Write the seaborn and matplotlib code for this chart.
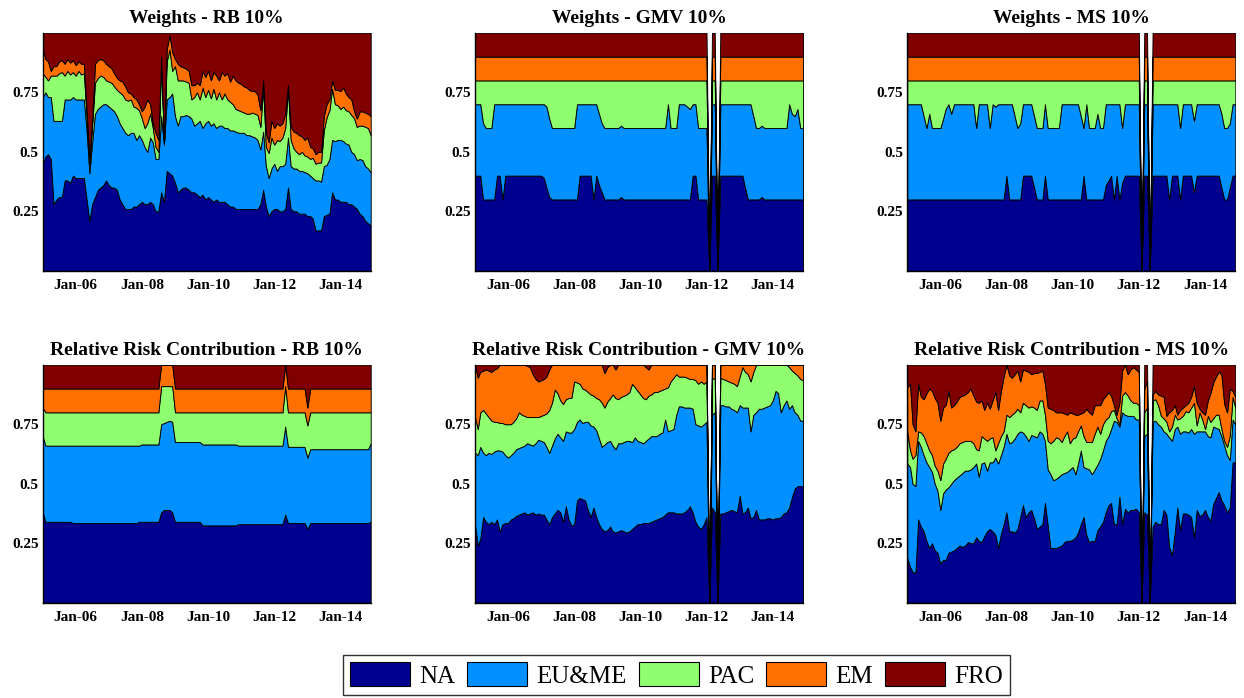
import numpy as np
import pandas as pd
import matplotlib
matplotlib.use("Agg")
import matplotlib.pyplot as plt
import matplotlib.dates as mdates
from matplotlib.patches import Patch
import seaborn as sns

# ---------------------------------------------------------------------------
# Monthly allocation data, Jan 2005 - Dec 2014 (120 months)
# ---------------------------------------------------------------------------
months = pd.date_range("2005-01-01", periods=120, freq="MS")
regions = ["NA", "EU&ME", "PAC", "EM", "FRO"]
region_colors = ["#00008F", "#0090FF", "#8FFF70", "#FF7000", "#800000"]
tick_years = [2006, 2008, 2010, 2012, 2014]
ytick_values = [0.25, 0.5, 0.75]
ytick_labels = ["0.25", "0.5", "0.75"]

# Weights - RB 10%
rb_w_na = [.45, .48, .49, .47, .28, .30, .31, .31, .38, .38,
           .37, .40, .39, .39, .39, .39, .30, .21, .28, .31,
           .34, .35, .36, .38, .36, .35, .35, .34, .30, .28,
           .26, .26, .26, .27, .27, .28, .29, .28, .28, .29,
           .28, .25, .25, .33, .29, .42, .41, .40, .37, .33,
           .34, .35, .35, .34, .33, .33, .32, .31, .32, .30,
           .31, .30, .29, .30, .29, .29, .29, .28, .27, .27,
           .26, .26, .26, .26, .26, .26, .26, .26, .26, .28,
           .34, .27, .23, .25, .26, .26, .25, .25, .26, .35,
           .26, .25, .25, .24, .24, .24, .23, .23, .22, .17,
           .17, .17, .23, .235, .24, .33, .30, .30, .29, .29,
           .29, .28, .28, .27, .26, .24, .23, .21, .20, .19]
rb_w_eu = [.28, .27, .24, .26, .35, .33, .32, .32, .34, .34,
           .35, .33, .33, .33, .33, .33, .29, .20, .26, .35,
           .34, .34, .34, .32, .33, .33, .32, .31, .32, .32,
           .32, .31, .32, .31, .28, .29, .26, .24, .22, .27,
           .26, .22, .22, .32, .24, .30, .32, .345, .28, .28,
           .31, .30, .305, .31, .31, .28, .30, .32, .28, .32,
           .32, .31, .33, .30, .32, .32, .31, .32, .32, .32,
           .325, .32, .32, .32, .31, .31, .305, .30, .29, .23,
           .245, .17, .16, .18, .19, .16, .19, .19, .19, .21,
           .18, .18, .18, .18, .18, .175, .18, .17, .17, .21,
           .21, .205, .21, .21, .23, .22, .245, .25, .26, .255,
           .245, .25, .22, .22, .205, .23, .235, .23, .23, .225]
rb_w_pac = [.10, .065, .07, .09, .19, .19, .20, .205, .10, .12,
            .105, .105, .10, .12, .105, .11, .06, .04, .07, .13,
            .13, .13, .115, .10, .105, .11, .105, .11, .13, .14,
            .14, .145, .14, .11, .135, .105, .09, .08, .12, .10,
            .06, .05, .03, .23, .005, .16, .20, .095, .21, .19,
            .15, .15, .14, .14, .08, .12, .13, .09, .17, .11,
            .13, .115, .145, .12, .14, .11, .145, .12, .12, .11,
            .095, .095, .09, .085, .09, .09, .10, .10, .105, .095,
            .185, .08, .105, .13, .08, .13, .105, .12, .15, .205,
            .11, .085, .07, .07, .08, .07, .07, .07, .085, .07,
            .075, .08, .15, .20, .205, .215, .155, .145, .13, .145,
            .14, .14, .155, .15, .14, .14, .145, .165, .17, .155]
rb_w_em = [.10, .075, .08, .02, .04, .04, .05, .05, .05, .05,
           .05, .05, .045, .04, .045, .04, .025, .03, .02, .08,
           .075, .07, .07, .07, .065, .06, .055, .05, .05, .055,
           .055, .035, .025, .04, .035, .025, .03, .09, .10, .04,
           .02, .06, .05, .02, .005, .05, .06, .08, .03, .07,
           .06, .055, .055, .05, .06, .05, .04, .06, .07, .085,
           .08, .075, .07, .10, .05, .115, .075, .11, .085, .12,
           .12, .115, .115, .11, .11, .10, .09, .095, .085, .07,
           .03, .06, .045, .07, .07, .07, .065, .06, .06, .015,
           .055, .07, .08, .08, .065, .065, .08, .05, .04, .04,
           .045, .045, .06, .055, .045, .035, .06, .065, .075, .08,
           .07, .06, .065, .03, .035, .06, .06, .06, .06, .08]
rb_w_fro = [.07, .11, .12, .16, .14, .14, .12, .115, .13, .11,
            .125, .115, .135, .12, .13, .13, .325, .52, .37, .13,
            .115, .11, .115, .13, .14, .15, .17, .19, .20, .205,
            .225, .25, .255, .27, .28, .30, .33, .31, .28, .30,
            .38, .42, .45, .10, .46, .07, .01, .08, .11, .13,
            .14, .145, .15, .16, .22, .22, .21, .22, .16, .185,
            .16, .20, .165, .18, .20, .165, .18, .17, .205, .18,
            .20, .21, .215, .225, .23, .24, .245, .245, .26, .325,
            .20, .42, .46, .37, .40, .38, .39, .38, .34, .22,
            .395, .415, .42, .43, .435, .45, .44, .48, .485, .51,
            .50, .50, .35, .30, .28, .20, .24, .24, .245, .23,
            .255, .27, .28, .33, .36, .33, .33, .335, .34, .35]

# Weights - GMV 10%
gmv_w_na = [.4, .4, .4, .3, .3, .3, .3, .3, .4, .4,
            .3, .4, .4, .4, .4, .4, .4, .4, .4, .4,
            .4, .4, .4, .4, .4, .39, .35, .31, .3, .3,
            .3, .3, .3, .3, .3, .3, .3, .3, .4, .4,
            .4, .4, .4, .3, .4, .36, .33, .3, .3, .3,
            .3, .3, .3, .31, .3, .3, .3, .3, .3, .3,
            .3, .3, .3, .3, .3, .3, .3, .3, .3, .3,
            .3, .3, .3, .3, .3, .3, .3, .3, .3, .4,
            .4, .3, .3, .3, .3, 0, .4, .4, 0, .4,
            .4, .4, .4, .4, .4, .4, .4, .4, .35, .3,
            .3, .3, .3, .3, .31, .3, .3, .3, .3, .3,
            .3, .3, .3, .3, .3, .3, .3, .3, .3, .3]
gmv_w_eu = [.3, .3, .3, .32, .3, .3, .3, .4, .3, .3,
            .4, .3, .3, .3, .3, .3, .3, .3, .3, .3,
            .3, .3, .3, .3, .3, .31, .34, .33, .3, .3,
            .3, .3, .3, .3, .3, .3, .3, .4, .3, .3,
            .3, .3, .3, .4, .3, .3, .29, .3, .3, .3,
            .3, .3, .3, .3, .3, .3, .3, .3, .3, .3,
            .3, .3, .3, .3, .3, .3, .3, .3, .3, .3,
            .4, .3, .3, .3, .4, .4, .4, .39, .38, .3,
            .3, .3, .3, .3, .3, 0, .3, .3, 0, .3,
            .3, .3, .3, .3, .3, .3, .3, .3, .35, .4,
            .4, .35, .3, .3, .3, .3, .3, .3, .3, .3,
            .3, .3, .3, .3, .4, .36, .35, .38, .3, .3]
gmv_w_pac = [.1, .1, .1, .18, .2, .2, .2, .1, .1, .1,
             .1, .1, .1, .1, .1, .1, .1, .1, .1, .1,
             .1, .1, .1, .1, .1, .1, .11, .16, .2, .2,
             .2, .2, .2, .2, .2, .2, .2, .1, .1, .1,
             .1, .1, .1, .1, .1, .14, .18, .2, .2, .2,
             .2, .2, .2, .19, .2, .2, .2, .2, .2, .2,
             .2, .2, .2, .2, .2, .2, .2, .2, .2, .2,
             .1, .2, .2, .2, .1, .1, .1, .11, .12, .1,
             .1, .2, .2, .2, .2, 0, .1, .1, 0, .1,
             .1, .1, .1, .1, .1, .1, .1, .1, .1, .1,
             .1, .15, .2, .2, .19, .2, .2, .2, .2, .2,
             .2, .2, .2, .2, .1, .14, .15, .12, .2, .2]
gmv_w_em = [.1, .1, .1, .1, .1, .1, .1, .1, .1, .1,
            .1, .1, .1, .1, .1, .1, .1, .1, .1, .1,
            .1, .1, .1, .1, .1, .1, .1, .1, .1, .1,
            .1, .1, .1, .1, .1, .1, .1, .1, .1, .1,
            .1, .1, .1, .1, .1, .1, .1, .1, .1, .1,
            .1, .1, .1, .1, .1, .1, .1, .1, .1, .1,
            .1, .1, .1, .1, .1, .1, .1, .1, .1, .1,
            .1, .1, .1, .1, .1, .1, .1, .1, .1, .1,
            .1, .1, .1, .1, .1, 0, .1, .1, 0, .1,
            .1, .1, .1, .1, .1, .1, .1, .1, .1, .1,
            .1, .1, .1, .1, .1, .1, .1, .1, .1, .1,
            .1, .1, .1, .1, .1, .1, .1, .1, .1, .1]
gmv_w_fro = [.1, .1, .1, .1, .1, .1, .1, .1, .1, .1,
             .1, .1, .1, .1, .1, .1, .1, .1, .1, .1,
             .1, .1, .1, .1, .1, .1, .1, .1, .1, .1,
             .1, .1, .1, .1, .1, .1, .1, .1, .1, .1,
             .1, .1, .1, .1, .1, .1, .1, .1, .1, .1,
             .1, .1, .1, .1, .1, .1, .1, .1, .1, .1,
             .1, .1, .1, .1, .1, .1, .1, .1, .1, .1,
             .1, .1, .1, .1, .1, .1, .1, .1, .1, .1,
             .1, .1, .1, .1, .1, 0, .1, .1, 0, .1,
             .1, .1, .1, .1, .1, .1, .1, .1, .1, .1,
             .1, .1, .1, .1, .1, .1, .1, .1, .1, .1,
             .1, .1, .1, .1, .1, .1, .1, .1, .1, .1]

# Weights - MS 10%
ms_w_na = [.3, .3, .3, .3, .3, .3, .3, .3, .3, .3,
           .3, .3, .3, .3, .3, .3, .3, .3, .3, .3,
           .3, .3, .3, .3, .3, .3, .3, .3, .3, .3,
           .3, .3, .3, .3, .3, .3, .4, .3, .3, .3,
           .3, .3, .4, .4, .4, .4, .35, .3, .3, .3,
           .4, .3, .3, .3, .3, .3, .3, .3, .3, .3,
           .3, .3, .3, .3, .4, .3, .3, .3, .3, .3,
           .3, .3, .36, .38, .4, .3, .4, .3, .37, .4,
           .4, .4, .4, .4, .4, 0, .4, .4, 0, .4,
           .4, .4, .4, .4, .4, .3, .4, .4, .4, .3,
           .4, .4, .4, .4, .33, .4, .4, .4, .4, .4,
           .4, .4, .4, .4, .35, .3, .3, .35, .4, .4]
ms_w_eu = [.4, .4, .4, .4, .4, .4, .35, .3, .36, .3,
           .3, .3, .3, .34, .38, .4, .36, .4, .4, .4,
           .4, .4, .4, .4, .4, .3, .4, .4, .4, .4,
           .3, .4, .39, .4, .4, .4, .3, .4, .4, .35,
           .3, .32, .3, .3, .3, .3, .3, .3, .3, .3,
           .3, .3, .3, .3, .3, .3, .4, .4, .4, .4,
           .4, .4, .4, .35, .2, .4, .3, .3, .3, .36,
           .3, .3, .34, .32, .3, .4, .3, .4, .23, .3,
           .3, .3, .3, .3, .3, 0, .3, .3, 0, .3,
           .3, .3, .3, .3, .3, .4, .3, .3, .3, .3,
           .3, .3, .3, .3, .3, .3, .3, .3, .3, .3,
           .3, .3, .3, .3, .31, .3, .3, .27, .3, .3]
ms_w_pac = [.1, .1, .1, .1, .1, .1, .15, .2, .14, .2,
            .2, .2, .2, .16, .12, .1, .14, .1, .1, .1,
            .1, .1, .1, .1, .1, .2, .1, .1, .1, .1,
            .2, .1, .11, .1, .1, .1, .1, .1, .1, .15,
            .2, .18, .1, .1, .1, .1, .15, .2, .2, .2,
            .1, .2, .2, .2, .2, .2, .1, .1, .1, .1,
            .1, .1, .1, .15, .2, .1, .2, .2, .2, .14,
            .2, .2, .1, .1, .1, .1, .1, .1, .2, .1,
            .1, .1, .1, .1, .1, 0, .1, .1, 0, .1,
            .1, .1, .1, .1, .1, .1, .1, .1, .1, .2,
            .1, .1, .1, .1, .17, .1, .1, .1, .1, .1,
            .1, .1, .1, .1, .14, .2, .2, .18, .1, .1]
ms_w_em = list(gmv_w_em)
ms_w_fro = list(gmv_w_fro)

# Relative Risk Contribution - RB 10%
rb_rc_na = [.38, .34, .34, .34, .34, .34, .34, .34, .34, .34,
            .34, .335, .335, .335, .335, .335, .335, .335, .335, .335,
            .335, .335, .335, .335, .335, .335, .335, .335, .335, .335,
            .335, .335, .335, .335, .335, .34, .34, .34, .34, .34,
            .34, .34, .34, .38, .39, .39, .39, .38, .34, .34,
            .34, .34, .34, .34, .34, .34, .34, .34, .325, .325,
            .325, .325, .325, .325, .325, .325, .325, .325, .325, .325,
            .325, .33, .33, .33, .33, .33, .33, .33, .33, .33,
            .33, .33, .33, .33, .33, .33, .33, .33, .37, .335,
            .335, .335, .335, .335, .335, .335, .31, .335, .335, .335,
            .335, .335, .335, .335, .335, .335, .335, .335, .335, .335,
            .335, .335, .335, .335, .335, .335, .335, .335, .335, .34]
rb_rc_eu = [.32, .32, .32, .32, .32, .32, .32, .32, .32, .32,
            .32, .325, .325, .325, .325, .325, .325, .325, .325, .325,
            .325, .325, .325, .325, .325, .325, .325, .325, .325, .325,
            .325, .325, .325, .325, .325, .32, .325, .325, .325, .325,
            .325, .325, .325, .37, .365, .37, .375, .38, .335, .335,
            .335, .335, .335, .335, .335, .335, .335, .335, .34, .34,
            .34, .34, .34, .34, .34, .34, .34, .34, .34, .34,
            .34, .33, .33, .33, .33, .33, .33, .33, .33, .33,
            .33, .33, .33, .33, .33, .33, .33, .33, .37, .32,
            .32, .32, .32, .32, .32, .32, .30, .31, .31, .31,
            .31, .31, .31, .31, .31, .31, .31, .31, .31, .31,
            .31, .31, .31, .31, .31, .31, .31, .31, .31, .33]
rb_rc_pac = [.12, .14, .14, .14, .14, .14, .14, .14, .14, .14,
             .14, .14, .14, .14, .14, .14, .14, .14, .14, .14,
             .14, .14, .14, .14, .14, .14, .14, .14, .14, .14,
             .14, .14, .14, .14, .14, .14, .135, .135, .135, .135,
             .135, .135, .135, .16, .155, .15, .145, .15, .125, .125,
             .125, .125, .125, .125, .125, .125, .125, .125, .135, .135,
             .135, .135, .135, .135, .135, .135, .135, .135, .135, .135,
             .135, .14, .14, .14, .14, .14, .14, .14, .14, .14,
             .14, .14, .14, .14, .14, .14, .14, .14, .17, .145,
             .145, .145, .145, .145, .145, .145, .135, .155, .155, .155,
             .155, .155, .155, .155, .155, .155, .155, .155, .155, .155,
             .155, .155, .155, .155, .155, .155, .155, .155, .155, .13]
rb_rc_em = [.08, .10, .10, .10, .10, .10, .10, .10, .10, .10,
            .10, .10, .10, .10, .10, .10, .10, .10, .10, .10,
            .10, .10, .10, .10, .10, .10, .10, .10, .10, .10,
            .10, .10, .10, .10, .10, .10, .10, .10, .10, .10,
            .10, .10, .10, .09, .09, .09, .09, .09, .10, .10,
            .10, .10, .10, .10, .10, .10, .10, .10, .10, .10,
            .10, .10, .10, .10, .10, .10, .10, .10, .10, .10,
            .10, .10, .10, .10, .10, .10, .10, .10, .10, .10,
            .10, .10, .10, .10, .10, .10, .10, .10, .09, .10,
            .10, .10, .10, .10, .10, .10, .075, .10, .10, .10,
            .10, .10, .10, .10, .10, .10, .10, .10, .10, .10,
            .10, .10, .10, .10, .10, .10, .10, .10, .10, .10]
rb_rc_fro = [.10, .10, .10, .10, .10, .10, .10, .10, .10, .10,
             .10, .10, .10, .10, .10, .10, .10, .10, .10, .10,
             .10, .10, .10, .10, .10, .10, .10, .10, .10, .10,
             .10, .10, .10, .10, .10, .10, .10, .10, .10, .10,
             .10, .10, .10, 0, 0, 0, 0, 0, .10, .10,
             .10, .10, .10, .10, .10, .10, .10, .10, .10, .10,
             .10, .10, .10, .10, .10, .10, .10, .10, .10, .10,
             .10, .10, .10, .10, .10, .10, .10, .10, .10, .10,
             .10, .10, .10, .10, .10, .10, .10, .10, 0, .10,
             .10, .10, .10, .10, .10, .10, .18, .10, .10, .10,
             .10, .10, .10, .10, .10, .10, .10, .10, .10, .10,
             .10, .10, .10, .10, .10, .10, .10, .10, .10, .10]

# Relative Risk Contribution - GMV 10%
gmv_rc_na = [.33, .24, .27, .36, .34, .33, .34, .33, .35, .30,
             .33, .335, .335, .35, .355, .365, .37, .375, .38, .37,
             .375, .38, .37, .375, .37, .37, .35, .33, .36, .375,
             .39, .38, .34, .405, .35, .325, .33, .43, .44, .435,
             .43, .39, .36, .40, .36, .33, .31, .30, .305, .32,
             .30, .295, .30, .305, .30, .295, .30, .31, .32, .33,
             .33, .335, .335, .335, .34, .345, .35, .355, .36, .37,
             .38, .38, .38, .375, .375, .375, .38, .39, .405, .38,
             .34, .32, .31, .33, .36, 0, .40, .38, 0, .375,
             .375, .38, .385, .39, .385, .38, .45, .375, .38, .40,
             .355, .36, .39, .35, .35, .35, .355, .355, .35, .355,
             .355, .36, .375, .38, .40, .445, .48, .49, .49, .49]
gmv_rc_eu = [.30, .38, .385, .27, .28, .30, .285, .305, .29, .34,
             .305, .285, .275, .27, .275, .28, .28, .28, .28, .30,
             .29, .28, .30, .31, .31, .305, .305, .30, .30, .315,
             .32, .315, .34, .315, .365, .39, .40, .33, .33, .32,
             .33, .37, .385, .34, .365, .36, .345, .365, .37, .36,
             .36, .35, .37, .365, .375, .385, .38, .365, .375, .35,
             .345, .335, .345, .355, .36, .355, .35, .355, .355, .40,
             .34, .345, .35, .415, .45, .45, .44, .43, .415, .435,
             .41, .425, .43, .42, .40, 0, .39, .42, 0, .455,
             .455, .445, .44, .425, .425, .42, .38, .445, .44, .42,
             .365, .43, .41, .465, .465, .47, .47, .475, .50, .535,
             .525, .44, .455, .47, .415, .385, .32, .30, .275, .275]
gmv_rc_pac = [.15, .11, .145, .18, .175, .15, .14, .125, .12, .115,
              .12, .13, .14, .13, .13, .13, .15, .135, .125, .11,
              .115, .12, .11, .095, .105, .115, .14, .18, .18, .205,
              .17, .155, .155, .135, .145, .145, .20, .165, .15, .145,
              .135, .125, .13, .13, .135, .165, .185, .155, .17, .18,
              .215, .215, .185, .195, .195, .195, .205, .245, .21, .21,
              .20, .19, .175, .18, .175, .185, .185, .18, .18, .13,
              .185, .205, .215, .17, .125, .125, .13, .125, .12, .125,
              .185, .175, .19, .17, .17, 0, .15, .145, 0, .115,
              .11, .11, .105, .11, .11, .11, .12, .17, .15, .14,
              .21, .18, .20, .185, .185, .18, .175, .17, .15, .11,
              .12, .20, .17, .15, .175, .145, .165, .165, .175, .17]
gmv_rc_em = [.22, .215, .17, .165, .185, .195, .205, .22, .225, .245,
             .245, .25, .25, .25, .24, .225, .20, .21, .215, .215,
             .21, .18, .16, .15, .15, .15, .155, .17, .16, .105,
             .12, .15, .165, .145, .14, .14, .07, .075, .08, .10,
             .105, .115, .125, .13, .14, .145, .16, .145, .145, .14,
             .125, .12, .145, .135, .13, .125, .115, .08, .095, .11,
             .125, .14, .135, .11, .125, .115, .115, .11, .105, .10,
             .095, .07, .055, .04, .05, .05, .05, .055, .06, .06,
             .065, .08, .07, .08, .07, 0, .06, .055, 0, .055,
             .06, .065, .07, .075, .08, .09, .05, .01, .03, .04,
             .07, .03, 0, 0, 0, 0, 0, 0, 0, 0,
             0, 0, 0, 0, .01, .025, .035, .045, .06, .065]
gmv_rc_fro = [0, .055, .03, .025, .02, .025, .03, .02, .015, 0,
              0, 0, 0, 0, 0, 0, 0, 0, 0, .005,
              .01, .04, .06, .07, .065, .06, .05, .02, 0, 0,
              0, 0, 0, 0, 0, 0, 0, 0, 0, 0,
              0, 0, 0, 0, 0, 0, 0, .035, .01, 0,
              0, .02, 0, 0, 0, 0, 0, 0, 0, 0,
              0, 0, .01, .02, 0, 0, 0, 0, 0, 0,
              0, 0, 0, 0, 0, 0, 0, 0, 0, 0,
              0, 0, 0, 0, 0, 0, 0, 0, 0, 0,
              0, 0, 0, 0, 0, 0, 0, 0, 0, 0,
              0, 0, 0, 0, 0, 0, 0, 0, 0, 0,
              0, 0, 0, 0, 0, 0, 0, 0, 0, 0]

# Relative Risk Contribution - MS 10%
ms_rc_na = [.19, .15, .13, .125, .35, .32, .30, .26, .23, .25,
            .22, .21, .165, .18, .18, .21, .215, .22, .23, .24,
            .235, .24, .255, .25, .25, .275, .26, .255, .28, .30,
            .31, .30, .285, .23, .29, .33, .38, .30, .30, .295,
            .31, .36, .41, .36, .38, .39, .355, .31, .32, .33,
            .42, .325, .23, .23, .23, .235, .24, .255, .26, .26,
            .265, .275, .295, .33, .36, .285, .255, .26, .26, .305,
            .32, .34, .38, .41, .42, .33, .33, .445, .33, .395,
            .38, .39, .39, .395, .38, 0, .38, .37, 0, .32,
            .34, .33, .33, .39, .37, .235, .20, .30, .40, .305,
            .375, .375, .37, .36, .275, .39, .365, .37, .39, .36,
            .345, .415, .44, .465, .43, .41, .38, .40, .59, .59]
ms_rc_eu = [.395, .42, .37, .365, .33, .335, .32, .33, .34, .30,
            .28, .26, .225, .28, .295, .275, .285, .295, .295, .295,
            .31, .315, .30, .31, .32, .31, .27, .33, .31, .255,
            .28, .29, .325, .355, .33, .325, .33, .37, .375, .395,
            .40, .36, .305, .34, .30, .315, .345, .385, .40, .38,
            .26, .235, .31, .285, .29, .295, .30, .29, .29, .30,
            .305, .265, .29, .31, .21, .28, .305, .28, .30, .275,
            .285, .30, .30, .29, .31, .435, .43, .295, .47, .395,
            .405, .395, .395, .375, .39, 0, .32, .34, 0, .44,
            .425, .42, .41, .33, .34, .46, .48, .43, .34, .405,
            .345, .345, .345, .37, .435, .33, .355, .35, .33, .34,
            .35, .325, .295, .265, .27, .25, .24, .20, .18, .16]
ms_rc_pac = [.135, .07, .105, .13, .04, .06, .08, .08, .07, .07,
             .075, .085, .125, .125, .13, .145, .14, .13, .13, .135,
             .13, .125, .125, .12, .10, .06, .11, .115, .10, .125,
             .10, .105, .03, .085, .08, .065, .08, .11, .115, .11,
             .105, .08, .125, .13, .14, .12, .12, .115, .13, .14,
             .11, .12, .13, .165, .175, .16, .135, .155, .17, .11,
             .12, .155, .135, .105, .13, .11, .115, .135, .15, .16,
             .105, .11, .09, .08, .075, .045, .015, .01, .07, .095,
             .085, .065, .055, .07, .06, 0, .10, .11, 0, .09,
             .09, .08, .045, .055, .05, .025, .06, .06, .03, .065,
             .065, .085, .085, .09, .13, .025, .08, .05, .01, .085,
             .065, .035, .055, .06, .03, .02, .035, .10, .095, .07]
ms_rc_em = [.185, .28, .145, .10, .20, .15, .155, .21, .26, .27,
            .285, .285, .25, .235, .225, .26, .18, .185, .19, .195,
            .195, .195, .205, .22, .20, .20, .20, .15, .12, .16,
            .125, .155, .245, .14, .19, .23, .21, .175, .155, .16,
            .16, .13, .14, .145, .15, .135, .145, .155, .12, .125,
            .13, .14, .145, .13, .105, .11, .125, .095, .07, .13,
            .105, .095, .07, .05, .10, .14, .125, .115, .12, .09,
            .12, .105, .10, .105, .065, .02, .015, .09, .105, .115,
            .09, .13, .15, .14, .14, 0, .10, .11, 0, .025,
            .035, .045, .085, .09, .025, .08, .07, .04, .02, .035,
            .035, .025, .04, .045, .07, .095, .015, .03, .06, .065,
            .12, .15, .16, .18, .23, .155, .145, .20, .025, .045]
ms_rc_fro = [.095, .08, .25, .28, .08, .135, .145, .12, .10, .11,
             .14, .16, .235, .18, .17, .11, .18, .17, .155, .135,
             .13, .125, .115, .10, .13, .155, .16, .15, .19, .16,
             .185, .15, .115, .19, .11, .05, 0, .045, .055, .04,
             .025, .07, .02, .025, .03, .04, .035, .035, .03, .025,
             .08, .18, .185, .19, .20, .20, .20, .205, .21, .20,
             .205, .21, .21, .205, .20, .185, .20, .21, .17, .17,
             .17, .145, .13, .115, .13, .17, .21, .16, .025, 0,
             .04, .02, .01, .02, .03, 0, .10, .07, 0, .125,
             .11, .125, .13, .135, .215, .20, .19, .17, .21, .19,
             .18, .17, .16, .135, .09, .16, .185, .20, .21, .15,
             .12, .075, .05, .03, .04, .165, .20, .10, .11, .135]

panels = [
    ("Weights - RB 10%", [rb_w_na, rb_w_eu, rb_w_pac, rb_w_em, rb_w_fro]),
    ("Weights - GMV 10%", [gmv_w_na, gmv_w_eu, gmv_w_pac, gmv_w_em, gmv_w_fro]),
    ("Weights - MS 10%", [ms_w_na, ms_w_eu, ms_w_pac, ms_w_em, ms_w_fro]),
    ("Relative Risk Contribution - RB 10%", [rb_rc_na, rb_rc_eu, rb_rc_pac, rb_rc_em, rb_rc_fro]),
    ("Relative Risk Contribution - GMV 10%", [gmv_rc_na, gmv_rc_eu, gmv_rc_pac, gmv_rc_em, gmv_rc_fro]),
    ("Relative Risk Contribution - MS 10%", [ms_rc_na, ms_rc_eu, ms_rc_pac, ms_rc_em, ms_rc_fro]),
]

# ---------------------------------------------------------------------------
# Styling
# ---------------------------------------------------------------------------
sns.set_theme(style="white", rc={
    "text.color": "black",
    "axes.labelcolor": "black",
    "xtick.color": "black",
    "ytick.color": "black",
    "axes.edgecolor": "black",
})
plt.rcParams["font.family"] = ["Liberation Serif", "DejaVu Serif"]
palette = sns.color_palette(region_colors)

fig = plt.figure(figsize=(12.44, 6.98), dpi=100)

col_left = [0.0343, 0.3818, 0.7293]
row_bottom = [0.612, 0.1365]
ax_w, ax_h = 0.2637, 0.341

tick_dates = [pd.Timestamp(f"{y}-01-01") for y in tick_years]

for k, (title, series) in enumerate(panels):
    r, c = divmod(k, 3)
    ax = fig.add_axes([col_left[c], row_bottom[r], ax_w, ax_h])
    ax.stackplot(months, *[np.asarray(s, dtype=float) for s in series],
                 colors=palette, edgecolor="black", linewidth=0.65)
    ax.set_xlim(months[0], months[-1])
    ax.set_ylim(0, 1)
    ax.set_xticks(tick_dates)
    ax.xaxis.set_major_formatter(mdates.DateFormatter("%b-%y"))
    ax.set_yticks(ytick_values)
    ax.set_yticklabels(ytick_labels)
    ax.tick_params(axis="x", length=0, labelsize=11, pad=6)
    ax.tick_params(axis="y", length=0, labelsize=11, pad=3)
    for lab in ax.get_xticklabels() + ax.get_yticklabels():
        lab.set_fontweight("bold")
    for side in ("top", "right"):
        ax.spines[side].set_visible(False)
    for side in ("left", "bottom"):
        ax.spines[side].set_color("black")
        ax.spines[side].set_linewidth(1.0)
    ax.set_title(title, fontsize=14, fontweight="bold", pad=7)

handles = [Patch(facecolor=col, edgecolor="black", linewidth=0.8, label=name)
           for name, col in zip(regions, palette)]
leg = fig.legend(handles=handles, loc="center", bbox_to_anchor=(0.5438, 0.033),
                 ncol=5, frameon=True, fancybox=False, edgecolor="black",
                 fontsize=18, handlelength=2.4, handleheight=1.05,
                 handletextpad=0.35, columnspacing=0.5, borderpad=0.3,
                 borderaxespad=0.0)
leg.get_frame().set_linewidth(1.0)

fig.savefig("out.png", dpi=100, facecolor="white")
